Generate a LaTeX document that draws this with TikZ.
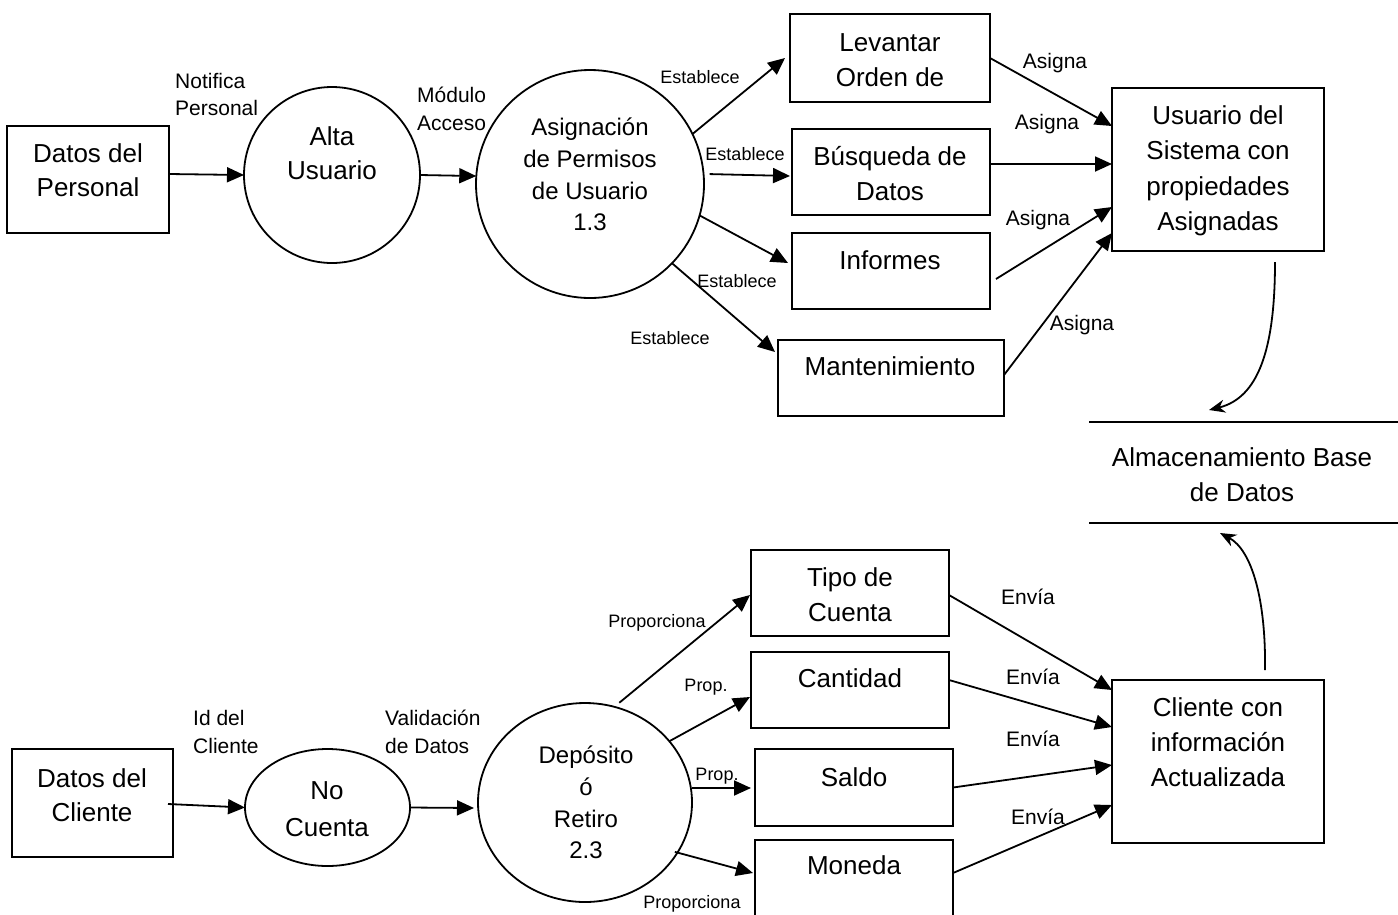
\documentclass[tikz,border=0pt]{standalone}
\usepackage{fontspec}
\setmainfont{Liberation Sans}
\usetikzlibrary{arrows.meta,shapes.geometric}
\begin{document}
\begin{tikzpicture}[x=1pt,y=-1pt,
  outline/.style={draw=black,line width=1.8pt,inner sep=0pt,outer sep=0pt},
  rbox/.style={outline,rectangle},
  proc/.style={outline,circle},
  oval/.style={outline,ellipse},
  % multi-line texts are anchored at the baseline of their last line
  txt/.style={anchor=base,align=center,inner sep=0pt,font=\fontsize{26}{35}\selectfont},
  txtsm/.style={anchor=base,align=center,inner sep=0pt,font=\fontsize{24}{31.7}\selectfont},
  lbl/.style={anchor=base,inner sep=0pt,font=\fontsize{21}{27.5}\selectfont},
  lbls/.style={anchor=base,inner sep=0pt,font=\fontsize{18}{22}\selectfont},
  flow/.style={line width=1.8pt,-{Triangle[length=17pt,width=15pt]}},
  curvearrow/.style={line width=1.8pt,-{Stealth[length=16pt,width=13pt]}}
]
\useasboundingbox (0,0) rectangle (1398,914);
\fill[white] (0,0) rectangle (1398,914);
\clip (0,0) rectangle (1398,914);

% ---------- upper flow: user permissions ----------
\node[rbox,minimum width=162pt,minimum height=107pt] (dp) at (88,179.5) {};
\node[proc,minimum size=176pt] (alta) at (332,175) {};
\node[proc,minimum size=228pt] (asig) at (590,184) {};
\node[rbox,minimum width=200pt,minimum height=88pt] (lev) at (890,58) {};
\node[rbox,minimum width=198pt,minimum height=86pt] (bus) at (891,172) {};
\node[rbox,minimum width=198pt,minimum height=76pt] (inf) at (891,271) {};
\node[rbox,minimum width=226pt,minimum height=76pt] (man) at (891,378) {};
\node[rbox,minimum width=212pt,minimum height=163pt] (usr) at (1218,169.5) {};

\node[txt,font=\fontsize{26}{34}\selectfont] (t-dp) at (88,196) {Datos del\\Personal};
\node[txt,font=\fontsize{26}{34}\selectfont] (t-alta) at (332,179) {Alta\\Usuario};
\node[txtsm] (t-asig) at (590,230.7) {Asignación\\de Permisos\\de Usuario\\1.3};
\node[txt] (t-lev) at (890,86) {Levantar\\Orden de};
\node[txt] (t-bus) at (890,200) {Búsqueda de\\Datos};
\node[txt] (t-inf) at (890,269) {Informes};
\node[txt] (t-man) at (890,375) {Mantenimiento};
\node[txt,font=\fontsize{26}{35.5}\selectfont] (t-usr) at (1218,230.5) {Usuario del\\Sistema con\\propiedades\\Asignadas};

% ---------- data store ----------
\node[txt] (store) at (1242,501) {Almacenamiento Base\\de Datos};
\coordinate (st-tl) at (1089,422);
\coordinate (st-tr) at (1400,422);
\coordinate (st-bl) at (1089,523);
\coordinate (st-br) at (1400,523);
\draw[line width=1.8pt] (st-tl) -- (st-tr);
\draw[line width=1.8pt] (st-bl) -- (st-br);
\coordinate (st-in) at (1209,410);
\coordinate (st-out) at (1220,533);

% ---------- lower flow: client transactions ----------
\node[rbox,minimum width=161pt,minimum height=108pt] (dc) at (92.5,803) {};
\node[oval,minimum width=165pt,minimum height=117pt] (nc) at (327.5,807.5) {};
\node[oval,minimum width=214pt,minimum height=199pt] (dep) at (585,802.5) {};
\node[rbox,minimum width=198pt,minimum height=86pt] (tipo) at (850,593) {};
\node[rbox,minimum width=198pt,minimum height=76pt] (cant) at (850,690) {};
\node[rbox,minimum width=198pt,minimum height=77pt] (sal) at (854,787.5) {};
\node[rbox,minimum width=198pt,minimum height=100pt] (mon) at (854,890) {};
\node[rbox,minimum width=212pt,minimum height=163pt] (cli) at (1218,761.5) {};

\node[txt,font=\fontsize{26}{34}\selectfont] (t-dc) at (92,821) {Datos del\\Cliente};
\node[txt,font=\fontsize{26}{37}\selectfont] (t-nc) at (327,836) {No\\Cuenta};
\node[txtsm] (t-dep) at (586,858.7) {Depósito\\ó\\Retiro\\2.3};
\node[txt] (t-tipo) at (850,621) {Tipo de\\Cuenta};
\node[txt] (t-cant) at (850,687) {Cantidad};
\node[txt] (t-sal) at (854,786) {Saldo};
\node[txt] (t-mon) at (854,874) {Moneda};
\node[txt] (t-cli) at (1218,786) {Cliente con\\información\\Actualizada};

% ---------- upper connectors ----------
\draw[flow] ([yshift=5.5pt]dp.east) -- (alta.west);
\draw[flow] (alta.east) -- (asig.176);
\draw[flow] (asig.26) -- ([xshift=-5pt]lev.west);
\draw[flow] ([xshift=6pt]asig.5) -- ([xshift=-2pt,yshift=-4pt]bus.west);
\draw[flow] (asig.-16) -- ([xshift=-4pt,yshift=8pt]inf.west);
\draw[flow] (asig.-44) -- ([xshift=-3pt,yshift=26pt]man.west);
\draw[flow] (lev.east) -- ([yshift=43.5pt]usr.west);
\draw[flow] ([yshift=8pt]bus.east) -- ([yshift=5.5pt]usr.west);
\draw[flow] ([xshift=6pt,yshift=-8pt]inf.east) -- ([yshift=-37.5pt]usr.west);
\draw[flow] ([yshift=3pt]man.east) -- ([yshift=-63.5pt]usr.west);
\draw[curvearrow] ([xshift=57pt,yshift=-11pt]usr.south) .. controls (1275,350) and (1258,398) .. (st-in);

% ---------- lower connectors ----------
\draw[flow] ([xshift=-5pt,yshift=-1pt]dc.east) -- (nc.west);
\draw[flow] (nc.east) -- ([xshift=-4pt,yshift=-5.5pt]dep.west);
\draw[flow] ([yshift=5.5pt]dep.70) -- ([xshift=-1pt,yshift=-2pt]tipo.west);
\draw[flow] (dep.36) -- ([xshift=-1pt,yshift=-7pt]cant.west);
\draw[flow] ([yshift=14.5pt]dep.east) -- ([xshift=-4pt,yshift=-0.5pt]sal.west);
\draw[flow] ([xshift=-3pt]dep.-28) -- ([xshift=-2pt,yshift=17pt]mon.west);
\draw[flow] ([yshift=-2pt]tipo.east) -- ([yshift=71.5pt]cli.west);
\draw[flow] ([yshift=10pt]cant.east) -- ([yshift=34.5pt]cli.west);
\draw[flow] (sal.east) -- ([yshift=-3.5pt]cli.west);
\draw[flow] ([yshift=17pt]mon.east) -- ([yshift=-43.5pt]cli.west);
\draw[curvearrow] ([xshift=47pt,yshift=10pt]cli.north) .. controls (1266,600) and (1252,550) .. (st-out);

% ---------- flow labels ----------
\node[lbl,anchor=base west,align=left,font=\fontsize{21}{27}\selectfont] (l-notif) at (175,115.5) {Notifica\\Personal};
\node[lbl,anchor=base west,align=left,font=\fontsize{21}{27.7}\selectfont] (l-mod) at (417,130.2) {Módulo\\Acceso};
\node[lbls] (l-e1) at (700,83.4) {Establece};
\node[lbls] (l-e2) at (745,160.4) {Establece};
\node[lbls] (l-e3) at (737,287.4) {Establece};
\node[lbls] (l-e4) at (670,344.4) {Establece};
\node[lbl] (l-a1) at (1055,68.5) {Asigna};
\node[lbl] (l-a2) at (1047,129.5) {Asigna};
\node[lbl] (l-a3) at (1038,225.5) {Asigna};
\node[lbl] (l-a4) at (1082,330.5) {Asigna};

\node[lbl,anchor=base west,align=left,font=\fontsize{21}{28}\selectfont] (l-id) at (193,753.5) {Id del\\Cliente};
\node[lbl,anchor=base west,align=left,font=\fontsize{21}{28}\selectfont] (l-val) at (385,753.5) {Validación\\de Datos};
\node[lbls] (l-p1) at (657,627.4) {Proporciona};
\node[lbls] (l-p2) at (706,691.4) {Prop.};
\node[lbls] (l-p3) at (717,780.4) {Prop.};
\node[lbls] (l-p4) at (692,908.4) {Proporciona};
\node[lbl] (l-s1) at (1028,604.5) {Envía};
\node[lbl] (l-s2) at (1033,684.5) {Envía};
\node[lbl] (l-s3) at (1033,746.5) {Envía};
\node[lbl] (l-s4) at (1038,824.5) {Envía};
\end{tikzpicture}
\end{document}
